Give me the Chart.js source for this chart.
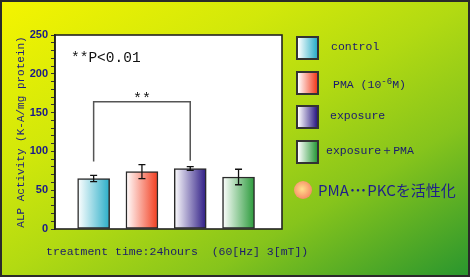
<!DOCTYPE html>
<html>
<head>
<meta charset="utf-8">
<script src="https://cdn.jsdelivr.net/npm/chart.js@4"></script>
<style>
  html, body { margin: 0; padding: 0; }
  #frame {
    position: relative;
    width: 470px;
    height: 277px;
    box-sizing: border-box;
    border: 2px solid #2a2a2a;
    background: linear-gradient(to bottom right, #f4f400 0%, #d2e80a 30%, #b2da12 50%, #86c41c 72%, #2a962e 100%);
    overflow: hidden;
  }
  #chart { position: absolute; left: -2px; top: -2px; }
  .swatch {
    position: absolute;
    width: 23px;
    height: 24px;
    box-sizing: border-box;
    border: 2px solid #333;
  }
  .label {
    position: absolute;
    font: 11.5px "Liberation Mono", monospace;
    color: #1a1a70;
    white-space: pre;
    line-height: 14px;
  }
  .label sup { font-size: 9px; vertical-align: 4px; }
  #note {
    position: absolute;
    left: 316px;
    top: 178px;
    font: 15px "Noto Sans CJK JP", sans-serif;
    color: #1e1e8c;
    line-height: 20px;
    white-space: pre;
  }
  #note .dots { letter-spacing: -2px; margin-right: 2px; }
  #dot {
    position: absolute;
    left: 292px;
    top: 179px;
    width: 18px;
    height: 18px;
    border-radius: 50%;
    background: radial-gradient(circle at 45% 45%, #ffe08c 0%, #f9a070 55%, #ec6c5c 100%);
  }
  #caption {
    position: absolute;
    left: 44px;
    top: 243px;
    font: 11.5px "Liberation Mono", monospace;
    color: #1c1c6a;
    white-space: pre;
  }
</style>
</head>
<body>
<div id="frame">
  <canvas id="chart" width="470" height="277"></canvas>
  <div id="legend"></div>
  <div id="dot"></div>
  <div id="note">PMA<span class="dots">･･･</span>PKCを活性化</div>
  <div id="caption">treatment time:24hours  (60[Hz] 3[mT])</div>
</div>
<script>
// ========== DATA ==========
const categories = ["control", "PMA", "exposure", "exposure＋PMA"];
const legendLabels = ["control", "PMA (10<sup>-6</sup>M)", "exposure", "exposure＋PMA"];
const meanValues = [65, 74, 78, 67];
const errorValues = [4, 9, 2.5, 10];
const barColors = ["#2aaec8", "#f23c1e", "#2c1a84", "#2a9a3a"];
const yMin = 0;
const yMax = 250;
const yMajorStep = 50;
const yMinorStep = 10;
const pLabel = "**P<0.01";
const bracketPair = [0, 2];
const bracketTop = 164;
const bracketFeet = [87, 88];
const bracketLabel = "**";

// ========== LEGEND (HTML) ==========
const legendEl = document.getElementById("legend");
categories.forEach((name, i) => {
  const top = 34 + i * 34.7;
  const sw = document.createElement("div");
  sw.className = "swatch";
  sw.style.left = "294px";
  sw.style.top = top + "px";
  sw.style.background = `linear-gradient(to right, #ffffff, ${barColors[i]})`;
  legendEl.appendChild(sw);

  const lb = document.createElement("div");
  lb.className = "label";
  lb.style.left = [329, 331, 328, 324][i] + "px";
  lb.style.top = (top + 4) + "px";
  lb.innerHTML = legendLabels[i];
  legendEl.appendChild(lb);
});

// ========== PLUGINS ==========
const plotBackground = {
  id: "plotBackground",
  beforeDraw(chart) {
    const { ctx, chartArea: a } = chart;
    ctx.save();
    ctx.fillStyle = "#ffffff";
    ctx.fillRect(a.left, a.top, a.right - a.left, a.bottom - a.top);
    ctx.restore();
  },
};

const plotExtras = {
  id: "plotExtras",
  afterDatasetsDraw(chart) {
    const { ctx, chartArea: a } = chart;
    const xs = chart.scales.x;
    const ys = chart.scales.y;
    ctx.save();

    // error bars
    ctx.strokeStyle = "#111";
    ctx.lineWidth = 1.3;
    meanValues.forEach((m, i) => {
      const x = xs.getPixelForValue(i);
      const yT = ys.getPixelForValue(m + errorValues[i]);
      const yB = ys.getPixelForValue(m - errorValues[i]);
      ctx.beginPath();
      ctx.moveTo(x, yT); ctx.lineTo(x, yB);
      ctx.moveTo(x - 3.5, yT); ctx.lineTo(x + 3.5, yT);
      ctx.moveTo(x - 3.5, yB); ctx.lineTo(x + 3.5, yB);
      ctx.stroke();
    });

    // significance bracket
    const x1 = xs.getPixelForValue(bracketPair[0]);
    const x2 = xs.getPixelForValue(bracketPair[1]);
    const yTop = ys.getPixelForValue(bracketTop);
    ctx.strokeStyle = "#555";
    ctx.lineWidth = 1.5;
    ctx.beginPath();
    ctx.moveTo(x1, ys.getPixelForValue(bracketFeet[0]));
    ctx.lineTo(x1, yTop);
    ctx.lineTo(x2, yTop);
    ctx.lineTo(x2, ys.getPixelForValue(bracketFeet[1]));
    ctx.stroke();

    ctx.fillStyle = "#111";
    ctx.font = '15px "Liberation Mono", monospace';
    ctx.textAlign = "center";
    ctx.textBaseline = "alphabetic";
    ctx.fillText(bracketLabel, (x1 + x2) / 2, yTop + 1.5);

    ctx.textAlign = "left";
    ctx.font = '14.5px "Liberation Mono", monospace';
    ctx.fillText(pLabel, a.left + 16, a.top + 27);

    // frame
    ctx.strokeStyle = "#222";
    ctx.lineWidth = 1.6;
    ctx.strokeRect(a.left, a.top, a.right - a.left, a.bottom - a.top);
    ctx.restore();
  },
};

// ========== CHART ==========
const barGradient = (context) => {
  const { chart, dataIndex } = context;
  const color = barColors[dataIndex];
  if (!chart.chartArea) {
    return color;
  }
  const x = chart.scales.x.getPixelForValue(dataIndex);
  const g = chart.ctx.createLinearGradient(x - 16, 0, x + 16, 0);
  g.addColorStop(0, "#ffffff");
  g.addColorStop(1, color);
  return g;
};

new Chart(document.getElementById("chart"), {
  type: "bar",
  data: {
    datasets: [
      {
        data: meanValues.map((v, i) => ({ x: i, y: v })),
        backgroundColor: barGradient,
        borderColor: "#2a2a2a",
        borderWidth: 1.5,
        borderSkipped: false,
        barThickness: 32,
      },
    ],
  },
  options: {
    responsive: false,
    animation: false,
    layout: { padding: { left: 14, top: 35, right: 188, bottom: 48 } },
    plugins: { legend: { display: false }, tooltip: { enabled: false } },
    scales: {
      x: {
        type: "linear",
        min: -0.8,
        max: 3.9,
        offset: false,
        display: false,
      },
      y: {
        min: yMin,
        max: yMax,
        afterFit: (scale) => { scale.width = 41; },
        border: { display: true, color: "#222", width: 1.6 },
        grid: {
          drawOnChartArea: false,
          tickLength: 4,
          tickColor: "#333",
          tickWidth: 1,
        },
        ticks: {
          stepSize: yMinorStep,
          autoSkip: false,
          padding: 3,
          color: "#1a1a8a",
          font: { family: "Liberation Sans", size: 11, weight: "bold" },
          callback: (v) => (v % yMajorStep === 0 ? v : ""),
        },
        title: {
          display: true,
          text: "ALP Activity (K-A/mg protein)",
          color: "#1c1c80",
          font: { family: "Liberation Mono", size: 11 },
          padding: { top: 0, bottom: 2 },
        },
      },
    },
  },
  plugins: [plotBackground, plotExtras],
});
</script>
</body>
</html>
